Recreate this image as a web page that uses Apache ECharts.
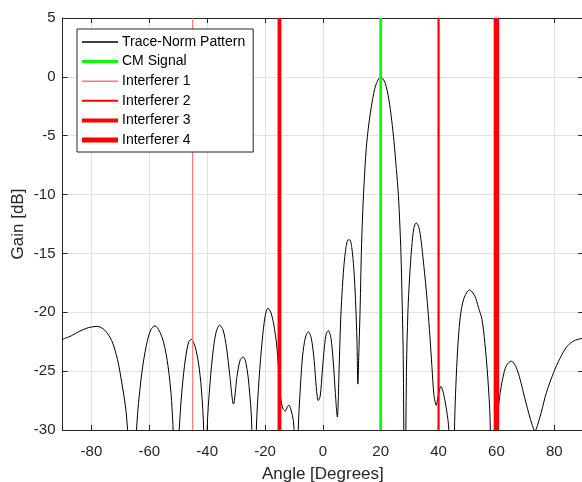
<!DOCTYPE html>
<html>
<head>
<meta charset="utf-8">
<script src="https://cdn.jsdelivr.net/npm/echarts@6/dist/echarts.min.js"></script>
<style>
html,body{margin:0;padding:0;background:#fff;}
#chart{width:582px;height:482px;}
</style>
</head>
<body>
<div id="chart"></div>
<script>
// Trace-Norm pattern (angle in degrees, gain in dB)
const angleDeg = [-90,-87,-84,-81,-78,-75.5,-73,-71,-69.5,-68,-66.8,-66,-65,-64,-62.5,-61,-59.5,-58,-56.5,-55,-53.5,-52.3,-51.3,-50.8,-50,-49,-47.8,-46.5,-45.5,-44.3,-43,-42,-41.2,-40.6,-40,-39,-37.8,-36.8,-35.7,-34.5,-33.3,-32.2,-30.9,-29.6,-28.5,-27.5,-26.5,-25.5,-24.6,-23.8,-23,-22,-21,-20,-19,-18,-17,-16,-15.3,-14.6,-13.8,-13,-12.2,-11.7,-11,-10.2,-9.5,-9,-8.5,-7.8,-7,-6,-5,-4,-3,-2.2,-1.6,-0.9,-0.2,0.6,1.2,1.9,2.8,3.6,4.3,5,5.6,6.1,6.6,7.3,8,8.7,9.3,10,10.7,11.3,11.8,12.1,12.5,12.9,13.3,13.7,14.2,15,15.9,17,18.3,20,21.5,22.8,23.8,24.6,25.4,26.1,26.6,27,27.4,27.8,28.3,28.9,29.4,30,30.7,31.5,32.3,33.2,34,34.8,35.5,36.3,37,37.7,38.4,39.2,39.8,40.8,41.6,42.5,43.4,44.2,44.8,45.5,46.4,47.5,48.8,50.7,52.5,53.8,55,56,57,57.8,58.7,59.7,60.4,61.1,62.2,63.5,65.2,66.7,68.2,69.7,71.2,72.4,73.3,74.2,75.5,77.3,79.8,82,84.4,87,90];
const gainDb = [-22.3,-22,-21.6,-21.3,-21.2,-21.5,-22.4,-24,-26,-28.5,-33,-45,-33,-28.5,-25,-22.8,-21.5,-21.15,-21.6,-22.6,-24.6,-27.5,-33,-45,-32,-27.5,-24.5,-22.6,-22.3,-22.8,-24.3,-26.5,-30,-45,-30,-26,-23,-21.6,-21.1,-21.5,-23,-25.3,-27.8,-25.3,-24,-23.8,-24.4,-26.3,-29.5,-45,-30,-25.5,-22.5,-20.4,-19.65,-20,-21,-22.7,-24.8,-27.2,-28.2,-28.4,-28,-27.9,-28.3,-29.2,-32,-40,-30,-26.5,-23.7,-22.1,-21.65,-22.2,-24.1,-26.6,-27.5,-27.1,-25,-22.8,-21.8,-21.55,-22.2,-24.2,-26.8,-28.9,-25,-21,-18.5,-16,-14.5,-13.85,-13.85,-14.5,-16.3,-19,-22.5,-26.1,-23,-19.5,-15,-12,-9.3,-6.1,-4,-2.2,-0.7,0,-0.5,-1.9,-3.7,-5.5,-7.8,-10,-12.5,-15,-19,-24,-40,-25,-20,-17,-14.5,-12.8,-12.4,-12.8,-14,-15.8,-17.5,-19.7,-22,-24.6,-27,-27.9,-27.2,-26.3,-26.8,-27.9,-29.5,-33,-45,-30,-24,-20.4,-18.8,-18.1,-18.6,-19.6,-20.6,-22.6,-25.5,-29,-40,-34,-29,-27.2,-25.6,-24.5,-24.15,-24.6,-25.7,-27.2,-28.6,-29.6,-30.1,-29.6,-28.5,-26.8,-25.1,-23.9,-22.9,-22.4,-22.2];

const signalAngle = 20;
const interfererAngles = [-45, 40, -15, 60];
const seriesNames = ['Trace-Norm Pattern', 'CM Signal', 'Interferer 1', 'Interferer 2', 'Interferer 3', 'Interferer 4'];
const xMin = -90, xMax = 90, yMin = -30, yMax = 5;

const FONT = '"Liberation Sans", Arial, Helvetica, sans-serif';
const AX = '#262626';

const chart = echarts.init(document.getElementById('chart'), null, {renderer: 'canvas'});

function vline(x) { return [[x, yMin], [x, yMax]]; }

const lineColors = ['#000000', '#00ff00', '#ff7878', '#ff0000', '#ff0000', '#ff0000'];
const lineWidths = [1, 2.8, 1.2, 2.2, 3.8, 5.5];
const legendIconHeights = [1.3, 3, 1.6, 2, 4, 5];

const series = [
  {
    name: seriesNames[0], type: 'line',
    data: angleDeg.map((a, i) => [a, gainDb[i]]),
    symbol: 'none', smooth: 0.3, clip: true,
    lineStyle: {color: lineColors[0], width: lineWidths[0]}, itemStyle: {color: lineColors[0]}
  },
  {
    name: seriesNames[1], type: 'line', data: vline(signalAngle),
    symbol: 'none', clip: true,
    lineStyle: {color: lineColors[1], width: lineWidths[1]}, itemStyle: {color: lineColors[1]}
  }
];
interfererAngles.forEach((a, i) => {
  series.push({
    name: seriesNames[i + 2], type: 'line', data: vline(a),
    symbol: 'none', clip: true,
    lineStyle: {color: lineColors[i + 2], width: lineWidths[i + 2]},
    itemStyle: {color: lineColors[i + 2]}
  });
});

const legendData = seriesNames.map((n, i) => {
  return {name: n, icon: 'path://M0,0H36V' + legendIconHeights[i] + 'H0Z'};
});

const option = {
  animation: false,
  backgroundColor: '#fff',
  textStyle: {fontFamily: FONT},
  grid: {left: 62.5, top: 18, width: 520.7, height: 412, containLabel: false, outerBoundsMode: 'none'},
  legend: {
    orient: 'vertical', left: 77, top: 29,
    data: legendData,
    itemWidth: 36, itemHeight: 14, itemGap: 5.6,
    padding: [6, 8, 5, 5],
    backgroundColor: '#fff', borderColor: AX, borderWidth: 1,
    textStyle: {fontFamily: FONT, fontSize: 14, color: '#000', padding: [0, 0, 0, -1]},
    symbolKeepAspect: true,
    selectedMode: false
  },
  xAxis: [
    {
      type: 'value', min: xMin, max: xMax, splitNumber: 9, position: 'bottom',
      name: 'Angle [Degrees]', nameLocation: 'middle', nameGap: 36, nameMoveOverlap: false,
      nameTextStyle: {fontFamily: FONT, fontSize: 17, color: AX},
      axisLine: {show: true, onZero: false, lineStyle: {color: AX, width: 1}},
      axisTick: {show: true, inside: true, length: 5, lineStyle: {color: AX}},
      axisLabel: {show: true, showMinLabel: false, showMaxLabel: false, margin: 14, fontFamily: FONT, fontSize: 15, color: AX},
      splitLine: {show: true, lineStyle: {color: '#e2e2e2', width: 1}}
    },
    {
      type: 'value', min: xMin, max: xMax, splitNumber: 9, position: 'top',
      axisLine: {show: true, onZero: false, lineStyle: {color: AX, width: 1}},
      axisTick: {show: true, inside: true, length: 5, lineStyle: {color: AX}},
      axisLabel: {show: false},
      splitLine: {show: false}
    }
  ],
  yAxis: [
    {
      type: 'value', min: yMin, max: yMax, interval: 5, position: 'left',
      name: 'Gain [dB]', nameLocation: 'middle', nameGap: 36, nameMoveOverlap: false,
      nameTextStyle: {fontFamily: FONT, fontSize: 17, color: AX},
      axisLine: {show: true, onZero: false, lineStyle: {color: AX, width: 1}},
      axisTick: {show: true, inside: true, length: 5, lineStyle: {color: AX}},
      axisLabel: {show: true, margin: 7, fontFamily: FONT, fontSize: 15, color: AX},
      splitLine: {show: true, lineStyle: {color: '#e2e2e2', width: 1}}
    },
    {
      type: 'value', min: yMin, max: yMax, interval: 5, position: 'right',
      axisLine: {show: true, onZero: false, lineStyle: {color: AX, width: 1}},
      axisTick: {show: true, inside: true, length: 5, lineStyle: {color: AX}},
      axisLabel: {show: false},
      splitLine: {show: false}
    }
  ],
  series: series
};
chart.setOption(option);
</script>
</body>
</html>
